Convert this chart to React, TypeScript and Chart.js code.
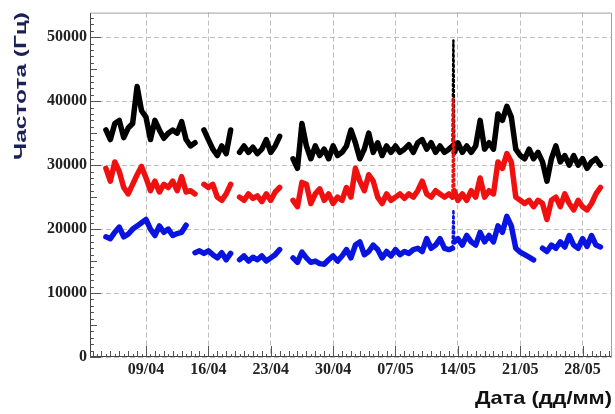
import React, { useEffect, useRef } from 'react';
import { Chart, registerables } from 'chart.js';

Chart.register(...registerables);

// Days counted from 1 April (09/04 = 8)
const days = [
  3.5, 4, 4.5, 5, 5.5, 6, 6.5, 7, 7.5, 8, 8.5, 9, 9.5, 10, 10.5, 11, 11.5, 12, 12.5, 13,
  13.5, 14, 14.5, 15, 15.5, 16, 16.5, 17, 17.5, 18, 18.5, 19, 19.5, 20, 20.5, 21, 21.5, 22,
  22.5, 23, 23.5, 24, 24.5, 25, 25.5, 26, 26.5, 27, 27.5, 28, 28.5, 29, 29.5, 30, 30.5, 31,
  31.5, 32, 32.5, 33, 33.5, 34, 34.5, 35, 35.5, 36, 36.5, 37, 37.5, 38, 38.5, 39, 39.5, 40,
  40.5, 41, 41.5, 42, 42.4, 42.5, 42.6, 43, 43.5, 44, 44.5, 45, 45.5, 46, 46.5, 47, 47.5, 48,
  48.5, 49, 49.5, 50, 50.5, 51, 51.5, 52, 52.5, 53, 53.5, 54, 54.5, 55, 55.5, 56, 56.5, 57,
  57.5, 58, 58.5, 59,
];

const blackSeries = [
  35500, 34000, 36500, 37000, 34300, 35800, 36500, 42300, 38500, 37500, 34000, 37000, 35500, 34200, 35000, 35500, 35000, 36800, 34000, 33000,
  33500, null, 35500, 34000, 32500, 31500, 33000, 31800, 35500, null, 32000, 33000, 32000, 32800, 31800, 32500, 34000, 32000,
  33000, 34500, null, null, 31000, 29500, 36500, 33000, 31000, 33000, 31500, 32500, 31000, 33000, 31500, 32000, 33000, 35500,
  33500, 31000, 32500, 35000, 32000, 33500, 31500, 33000, 32000, 33000, 32000, 32500, 33200, 32000, 33500, 34000, 32500, 33500,
  32000, 33000, 32000, 32500, 33000, 49500, 32000, 33500, 32000, 33000, 32000, 33000, 37000, 32500, 33500, 32500, 38000, 37000,
  39200, 37500, 32500, 31500, 31000, 32500, 31000, 32000, 30500, 27500, 31000, 33000, 30500, 31500, 30000, 31500, 30000, 31000,
  29500, 30500, 31000, 30000,
];

const redSeries = [
  29500, 27500, 30500, 29000, 26500, 25500, 27000, 28500, 29800, 28000, 26000, 27500, 25800, 27000, 26500, 27500, 26000, 28200, 25800, 26000,
  25500, null, 27000, 26500, 27000, 25000, 24500, 25500, 27000, null, 25000, 24500, 25500, 24800, 25200, 24300, 25500, 24500,
  25800, 26500, null, null, 24500, 23500, 27300, 27000, 24000, 25500, 26300, 24500, 25500, 24000, 25000, 24500, 26500, 25000,
  29500, 27500, 26000, 28500, 27500, 25000, 24000, 25500, 24500, 25000, 25500, 24800, 25500, 25000, 26000, 27500, 25500, 25000,
  26000, 25500, 25000, 25500, 25000, 40500, 26000, 24500, 25500, 24500, 26000, 25000, 28000, 25000, 26000, 25500, 30500, 29500,
  31800, 30500, 25000, 24500, 24000, 24500, 23500, 24500, 24000, 21500, 24500, 25000, 23500, 25500, 24000, 23000, 24500, 23500,
  23000, 24000, 25500, 26500,
];

const blueSeries = [
  18800, 18500, 19500, 20300, 18800, 19200, 20000, 20500, 21000, 21500, 20000, 19000, 20500, 19500, 20000, 19000, 19300, 19500, 20600, null,
  16300, 16600, 16200, 16600, 16000, 15500, 16300, 15200, 16200, null, 15200, 15800, 15000, 15600, 15200, 15800, 15000, 15500,
  16000, 16800, null, null, 15500, 14800, 16400, 15500, 14800, 15000, 14600, 14500, 15200, 15800, 15000, 15800, 16800, 15500,
  17500, 18000, 16000, 16500, 17500, 16800, 15500, 16500, 15800, 16800, 16000, 16500, 16200, 16800, 17000, 16500, 18500, 17000,
  17500, 18500, 17000, 16800, 17000, 23000, 18000, 18500, 17500, 19000, 18000, 17500, 19500, 18000, 19000, 18000, 20500, 19500,
  22000, 20500, 17000, 16400, 16000, 15600, 15200, null, 17000, 16500, 17500, 17000, 18000, 17200, 19000, 17500, 17000, 18500,
  17300, 19000, 17500, 17200,
];

const spikeDay = 42.5;
const tickDays = [8, 15, 22, 29, 36, 43, 50, 57];
const tickLabels = ['09/04', '16/04', '23/04', '30/04', '07/05', '14/05', '21/05', '28/05'];
const yTicks = [0, 10000, 20000, 30000, 40000, 50000];
const yTitle = 'Частота (Гц)';
const xTitle = 'Дата (дд/мм)';

const toPoints = (vals: (number | null)[]) => days.map((d, i) => ({ x: d, y: vals[i] }));

const decorPlugin = {
  id: 'decor',
  afterDraw(chart: any) {
    const { ctx, chartArea: a, scales } = chart;
    const xs = scales.x;
    const ys = scales.y;
    ctx.save();
    ctx.strokeStyle = '#555';
    ctx.lineWidth = 1;
    ctx.beginPath();
    for (let k = Math.ceil(xs.min * 2); k <= Math.floor(xs.max * 2); k++) {
      const v = k / 2;
      const px = Math.round(xs.getPixelForValue(v)) + 0.5;
      const len = tickDays.includes(v) ? 11 : k % 2 === 0 ? 6 : 3;
      ctx.moveTo(px, a.bottom);
      ctx.lineTo(px, a.bottom - len);
    }
    for (let v = 0; v <= ys.max; v += 1000) {
      const py = Math.round(ys.getPixelForValue(v)) + 0.5;
      const len = v % 10000 === 0 ? 11 : v % 5000 === 0 ? 7 : 4;
      ctx.moveTo(a.left, py);
      ctx.lineTo(a.left + len, py);
    }
    ctx.stroke();
    ctx.strokeStyle = '#a0a0a0';
    ctx.beginPath();
    ctx.moveTo(a.left + 0.5, a.top + 0.5);
    ctx.lineTo(a.right - 0.5, a.top + 0.5);
    ctx.lineTo(a.right - 0.5, a.bottom - 0.5);
    ctx.stroke();
    ctx.strokeStyle = '#444';
    ctx.beginPath();
    ctx.moveTo(a.left + 0.5, a.top + 0.5);
    ctx.lineTo(a.left + 0.5, a.bottom - 0.5);
    ctx.lineTo(a.right - 0.5, a.bottom - 0.5);
    ctx.stroke();

    ctx.save();
    ctx.font = 'bold 17px "Liberation Sans", Arial, sans-serif';
    const wy = ctx.measureText(yTitle).width;
    ctx.translate(21, 12);
    ctx.rotate(-Math.PI / 2);
    ctx.scale(148 / wy, 1);
    ctx.fillStyle = '#1b2157';
    ctx.textAlign = 'right';
    ctx.textBaseline = 'middle';
    ctx.fillText(yTitle, 0, 0);
    ctx.restore();

    ctx.save();
    ctx.font = 'bold 19px "Liberation Sans", Arial, sans-serif';
    const wx = ctx.measureText(xTitle).width;
    ctx.translate(612, 404);
    ctx.scale(137 / wx, 1);
    ctx.fillStyle = '#111';
    ctx.textAlign = 'right';
    ctx.textBaseline = 'alphabetic';
    ctx.fillText(xTitle, 0, 0);
    ctx.restore();

    ctx.restore();
  },
};

export default function App() {
  const ref = useRef<HTMLCanvasElement | null>(null);
  useEffect(() => {
    if (!ref.current) return;
    const isSpike = (c: any) => c.p0.parsed.x === spikeDay || c.p1.parsed.x === spikeDay;
    const lineDs = (label: string, vals: (number | null)[], color: string) => ({
      label,
      data: toPoints(vals),
      borderColor: color,
      backgroundColor: color,
      borderWidth: 5.5,
      pointRadius: 0,
      tension: 0,
      spanGaps: false,
      borderJoinStyle: 'round' as const,
      borderCapStyle: 'round' as const,
      segment: {
        borderWidth: (c: any) => (isSpike(c) ? 2.5 : undefined),
        borderDash: (c: any) => (isSpike(c) ? [2, 3] : undefined),
      },
    });
    const chart = new Chart(ref.current, {
      type: 'line',
      data: {
        datasets: [
          lineDs('blue', blueSeries, '#0a14e0'),
          lineDs('red', redSeries, '#f01010'),
          lineDs('black', blackSeries, '#000000'),
        ],
      },
      options: {
        animation: false,
        responsive: false,
        maintainAspectRatio: false,
        devicePixelRatio: 1,
        events: [],
        layout: { padding: { top: 7, right: 3, left: 0, bottom: 0 } },
        plugins: { legend: { display: false }, tooltip: { enabled: false } },
        scales: {
          x: {
            type: 'linear',
            min: 1.715,
            max: 60.3,
            afterBuildTicks: (s: any) => {
              s.ticks = tickDays.map((v) => ({ value: v }));
            },
            afterFit: (s: any) => {
              s.height = 57;
            },
            ticks: {
              autoSkip: false,
              maxRotation: 0,
              padding: 3,
              color: '#222',
              font: { family: '"Liberation Serif", "Times New Roman", serif', size: 16, weight: 'bold' },
              callback: (v: any) => {
                const i = tickDays.indexOf(Number(v));
                return i >= 0 ? tickLabels[i] : '';
              },
            },
            grid: { color: '#bdbdbd', lineWidth: 1, drawTicks: false },
            border: { display: false, dash: [5, 3] },
          },
          y: {
            type: 'linear',
            min: 0,
            max: 53850,
            afterBuildTicks: (s: any) => {
              s.ticks = yTicks.map((v) => ({ value: v }));
            },
            afterFit: (s: any) => {
              s.width = 90;
            },
            ticks: {
              padding: 3,
              color: '#222',
              font: { family: '"Liberation Serif", "Times New Roman", serif', size: 16, weight: 'bold' },
              callback: (v: any) => String(v),
            },
            grid: { color: '#bdbdbd', lineWidth: 1, drawTicks: false },
            border: { display: false, dash: [5, 3] },
          },
        },
      },
      plugins: [decorPlugin],
    });
    return () => chart.destroy();
  }, []);
  return (
    <canvas
      ref={ref}
      width={615}
      height={414}
      style={{ position: 'absolute', left: 0, top: 0, width: 615, height: 414 }}
    />
  );
}
